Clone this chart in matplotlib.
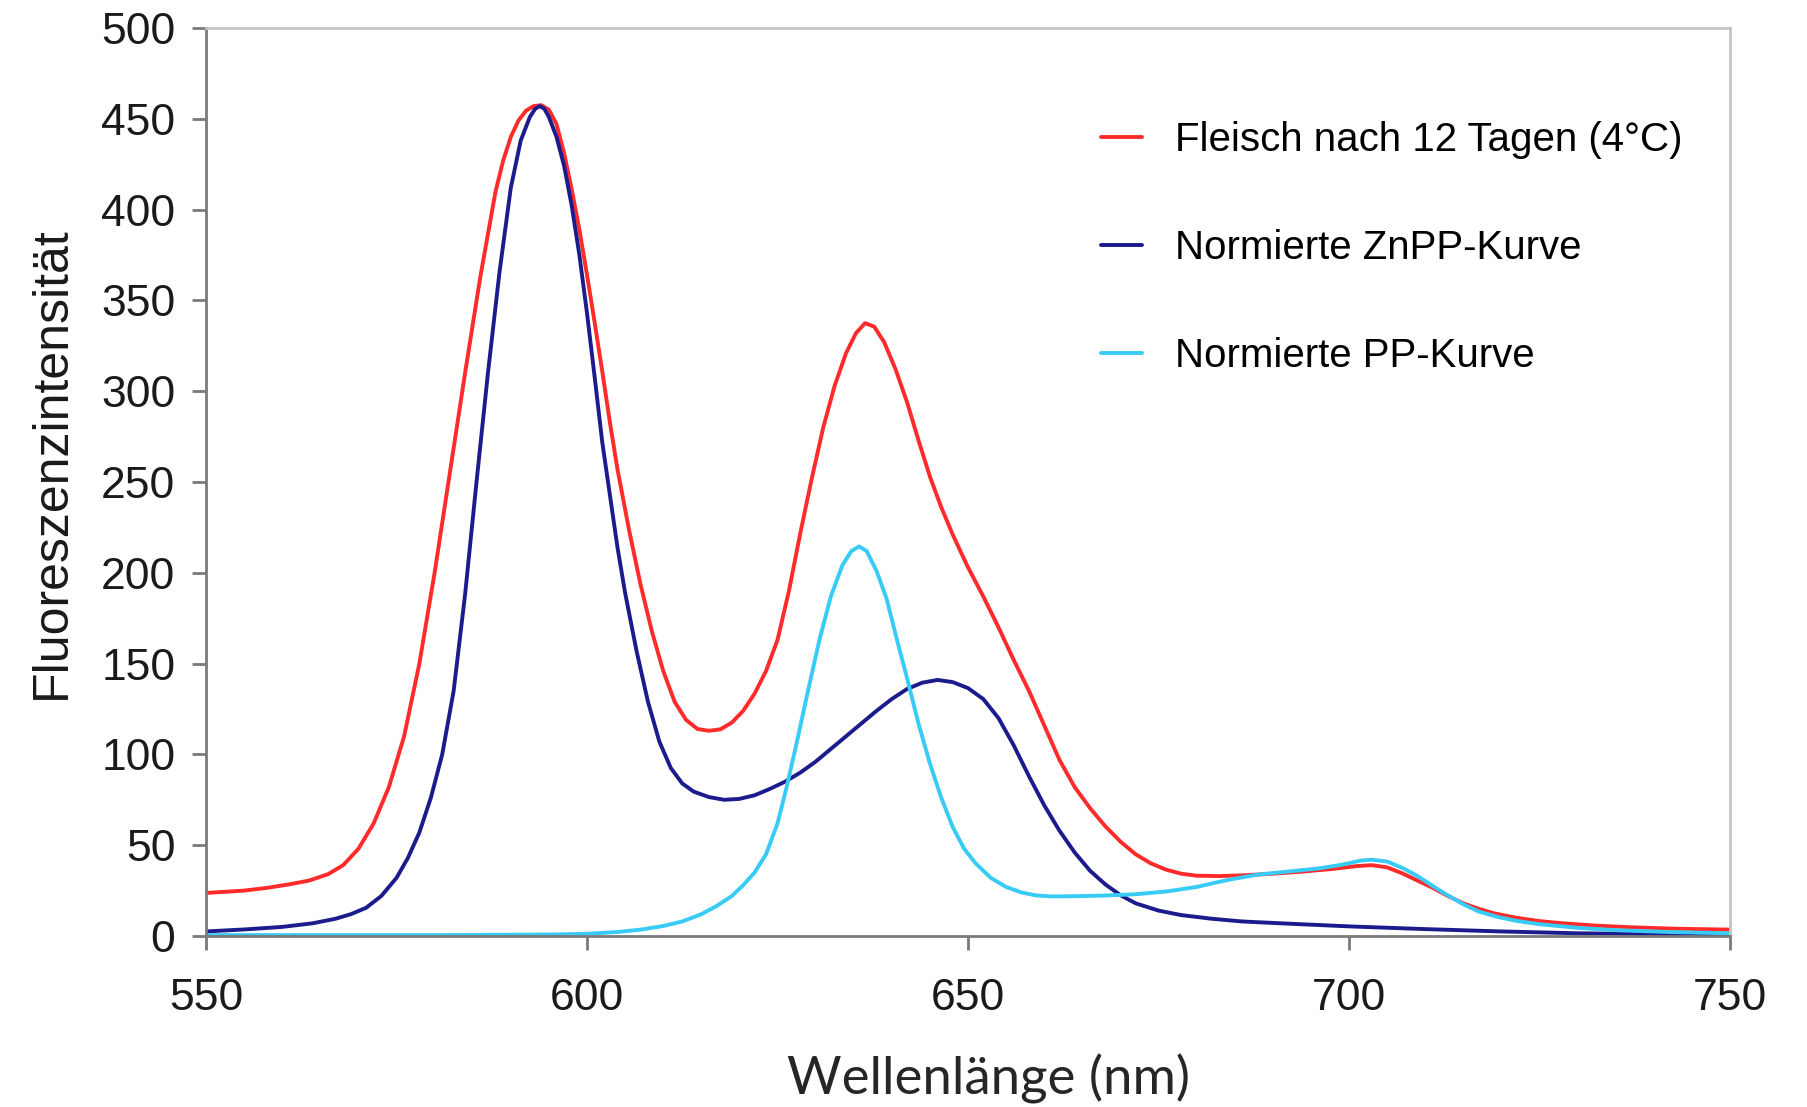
import matplotlib
matplotlib.use("Agg")
import matplotlib.pyplot as plt

# Fleisch nach 12 Tagen (4°C)
wl_meat = [550, 555, 558, 561, 563.5, 566, 568, 570, 572, 574, 576, 578, 580, 582, 584,
           586, 588, 589, 590, 591, 592, 593, 594, 595, 596, 597, 598, 599, 600, 601, 602, 603,
           604, 605.5, 607, 608.5, 610, 611.5, 613, 614.5, 616, 617.5, 619, 620.5, 622,
           623.5, 625, 626.5, 628, 629.5, 631, 632.5, 634, 635.3, 636.5, 637.7, 639, 640.5,
           642, 643.5, 645, 646.5, 648, 650, 652, 654, 656, 658, 660, 662, 664, 666, 668,
           670, 672, 674, 676, 678, 680, 683, 686, 690, 694, 698, 701, 703, 705, 707, 709,
           711, 713, 715, 717, 719, 722, 725, 728, 732, 737, 743, 750]
int_meat = [23.7, 25, 26.5, 28.5, 30.5, 34, 39, 48, 62, 82, 110, 150, 200, 255, 310,
            363, 410, 427, 440, 449, 454.5, 457, 457.5, 455, 447, 431, 411, 389, 364, 338, 311, 283,
            257, 224, 194, 168, 146, 129, 119, 114, 113, 113.8, 117.5, 124, 133.5,
            146, 163, 190, 222, 252, 280, 303, 321, 332, 337.5, 335.5, 327, 312,
            294, 273, 253, 236, 221, 203, 187, 170, 152, 135, 116, 97, 82, 70.5, 60.5,
            52, 45, 40, 36.5, 34.3, 33.2, 33, 33.4, 34.3, 35.5, 37, 38.5, 39, 37.8, 34.5, 30.5,
            26.5, 22, 18, 15, 12.5, 10, 8.2, 7, 5.8, 4.8, 4, 3.5]

# Normierte ZnPP-Kurve
wl_znpp = [550, 555, 560, 564, 567, 569, 571, 573, 575, 576.5, 578, 579.5, 581, 582.5,
           584, 585.5, 587, 588.5, 590, 591.3, 592.5, 593.2, 593.8, 594.4, 595, 596, 597, 598,
           599, 600, 601, 602, 603, 604, 605, 606.5, 608, 609.5, 611, 612.5, 614, 616, 618,
           620, 622, 624, 626, 628, 630, 632, 634, 636, 638, 640, 642, 644, 646, 648, 650,
           652, 654, 656, 658, 660, 662, 664, 666, 668, 670, 672, 675, 678, 682, 686, 692,
           700, 710, 720, 730, 740, 750]
int_znpp = [2.5, 3.6, 5, 7, 9.5, 12, 15.5, 22, 32, 43, 57, 76, 100, 135,
            188, 250, 310, 365, 412, 438, 451, 455.5, 457, 455.5, 451, 440, 424, 402,
            375, 343, 308, 272, 243, 214, 189, 157, 129, 107, 92.5, 84, 79.5, 76.5, 75,
            75.5, 77.5, 81, 85, 90, 96, 103, 110, 117, 124, 130.5, 136, 139.5, 141, 139.8, 136.5,
            130.5, 120, 105, 88, 72, 58, 46, 36, 28.5, 22.5, 18, 14, 11.5, 9.5, 8, 6.8,
            5.3, 3.8, 2.5, 1.5, 1, 0.8]

# Normierte PP-Kurve
wl_pp = [550, 580, 595, 600, 604, 607, 610, 612.5, 615, 617, 619, 620.5, 622, 623.5,
         625, 626.2, 627.5, 629, 630.5, 632, 633.5, 634.7, 635.7, 636.7, 638, 639.3, 640.5,
         642, 643.5, 645, 646.5, 648, 649.5, 651, 653, 655, 657, 659, 661, 664, 668, 672,
         676, 680, 684, 688, 692, 696, 699, 701.5, 703, 705, 707, 709, 711, 713, 715, 717,
         719.5, 722, 725, 730, 735, 742, 750]
int_pp = [0.5, 0.5, 0.8, 1.2, 2.2, 3.5, 5.5, 8, 12, 16.5, 22, 28, 35, 45,
          62, 82, 106, 135, 163, 187, 204, 212, 214.5, 212, 201, 186, 166,
          142, 117, 95, 76, 60, 48, 40, 32, 27, 24, 22.3, 21.8, 21.9, 22.3, 23,
          24.5, 27, 30.8, 33.8, 35.5, 37.2, 39.2, 41.5, 42, 41, 37.5, 33, 27.5, 22.3, 17.5, 13.5,
          10.5, 8.3, 6.5, 4.5, 3.2, 2.2, 1.5]

labels = ["Fleisch nach 12 Tagen (4°C)", "Normierte ZnPP-Kurve", "Normierte PP-Kurve"]
colors = ["#FF2B2B", "#1B1B8E", "#38CBF6"]

plt.rcParams["font.family"] = ["Liberation Sans", "DejaVu Sans"]

fig = plt.figure(figsize=(18.08, 11.07), dpi=100)
ax = fig.add_axes([206 / 1808, 1 - 936 / 1107, 1524 / 1808, 908 / 1107])

series = [(wl_meat, int_meat), (wl_znpp, int_znpp), (wl_pp, int_pp)]
for (x, y), label, color in zip(series, labels, colors):
    ax.plot(x, y, color=color, linewidth=2.8, label=label,
            solid_capstyle="round", solid_joinstyle="round")

ax.set_xlim(550, 750)
ax.set_ylim(0, 500)
ax.set_xticks(range(550, 751, 50))
ax.set_yticks(range(0, 501, 50))

for side in ["left", "bottom"]:
    ax.spines[side].set_color("#7a7a7a")
    ax.spines[side].set_linewidth(2)
for side in ["top", "right"]:
    ax.spines[side].set_color("#c4c4c4")
    ax.spines[side].set_linewidth(2)

ax.tick_params(axis="both", direction="out", length=10, width=2, color="#7a7a7a",
               labelsize=32, labelcolor="#1a1a1a")
ax.tick_params(axis="y", pad=12)
ax.tick_params(axis="x", pad=20)

fig.text(52 / 1808, 1 - 463 / 1107, "Fluoreszenzintensität", rotation=90,
         ha="center", va="center", fontsize=36, color="#1a1a1a")
fig.text(989 / 1808, 1 - 1095 / 1107, "Wellenlänge (nm)", ha="center", va="baseline",
         fontsize=38, color="#262626", family=["Lato", "DejaVu Sans"])

ax.legend(loc="upper left", bbox_to_anchor=(1101 / 1808, 1 - 121 / 1107),
          bbox_transform=fig.transFigure, frameon=False, fontsize=29,
          handlelength=1.03, handletextpad=0.8, labelspacing=1.74,
          borderpad=0, borderaxespad=0)

fig.savefig("out.png", dpi=100)
